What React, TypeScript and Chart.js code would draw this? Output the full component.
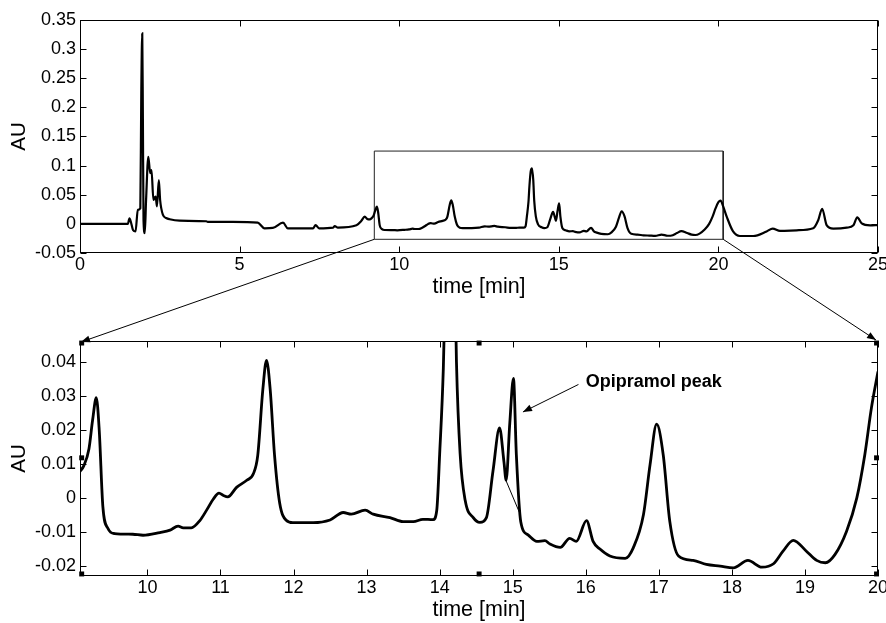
import React, { useEffect, useRef } from 'react';
import { Chart, registerables } from 'chart.js';

Chart.register(...registerables);

// ---------- data ----------
const earlyTime = [0, 1.5, 1.55, 1.6, 1.66, 1.74, 1.81, 1.89, 1.92, 1.95, 1.97, 1.99, 2.03, 2.07, 2.14, 2.2, 2.24, 2.3, 2.37, 2.41, 2.47, 2.51, 2.6, 2.7, 2.81, 3.12, 3.96, 4.0, 4.79, 5.57, 5.78, 6.04, 6.36, 6.51, 6.88, 7.3, 7.38, 7.49, 7.93, 7.98, 8.08, 8.66, 8.81, 8.92, 9.0];
const earlyAU = [0, 0, 0.0096, 0.002, -0.0105, -0.013, 0.024, 0.027, 0.224, 0.327, 0.18, 0.0067, -0.016, 0.041, 0.115, 0.087, 0.0925, 0.041, 0.047, 0.03, 0.075, 0.041, 0.0153, 0.01, 0.0079, 0.0055, 0.0045, 0.0035, 0.0035, 0.0021, -0.0076, -0.007, 0.0021, -0.0076, -0.0076, -0.0076, -0.002, -0.0078, -0.0065, -0.004, -0.0065, -0.0025, 0.005, 0.0124, 0.0085];

const zoomTime = [9.077, 9.13, 9.2, 9.25, 9.3, 9.34, 9.39, 9.46, 9.55, 9.8, 9.94, 10.17, 10.31, 10.42, 10.49, 10.6, 10.72, 10.81, 10.9, 10.98, 11.04, 11.1, 11.22, 11.36, 11.45, 11.51, 11.58, 11.63, 11.68, 11.74, 11.81, 11.9, 11.99, 12.27, 12.5, 12.68, 12.79, 12.98, 13.09, 13.32, 13.5, 13.64, 13.77, 13.91, 13.96, 14.0, 14.05, 14.08, 14.12, 14.16, 14.2, 14.23, 14.28, 14.35, 14.46, 14.55, 14.64, 14.73, 14.82, 14.88, 14.91, 14.96, 15.01, 15.05, 15.11, 15.21, 15.33, 15.44, 15.51, 15.65, 15.78, 15.87, 16.01, 16.1, 16.19, 16.33, 16.54, 16.65, 16.79, 16.88, 16.97, 17.06, 17.15, 17.27, 17.47, 17.65, 17.84, 18.02, 18.22, 18.41, 18.57, 18.7, 18.84, 19.02, 19.16, 19.28, 19.41, 19.57, 19.71, 19.82, 19.91, 20.0];
const zoomAU = [0.0078, 0.0095, 0.0145, 0.023, 0.0295, 0.02, -0.0026, -0.009, -0.0105, -0.0107, -0.011, -0.0102, -0.0095, -0.0083, -0.0088, -0.0088, -0.0066, -0.0036, -0.0004, 0.0014, 0.0007, 0.0003, 0.0031, 0.0052, 0.0071, 0.0125, 0.032, 0.0405, 0.032, 0.0125, -0.0015, -0.0066, -0.0073, -0.0073, -0.0065, -0.0043, -0.0048, -0.0036, -0.0048, -0.0058, -0.007, -0.007, -0.0063, -0.0064, -0.0037, 0.0129, 0.038, 0.065, 0.09, 0.0955, 0.075, 0.04, 0.013, -0.0008, -0.0058, -0.0072, -0.0058, 0.0079, 0.0206, 0.0106, 0.0052, 0.022, 0.0352, 0.0126, -0.007, -0.0109, -0.0128, -0.0126, -0.0136, -0.0146, -0.0119, -0.0128, -0.0067, -0.0128, -0.015, -0.0171, -0.0178, -0.0147, -0.0049, 0.0098, 0.0217, 0.0127, -0.0069, -0.0171, -0.0184, -0.0196, -0.0201, -0.0206, -0.0184, -0.0204, -0.0194, -0.0157, -0.0125, -0.0157, -0.0184, -0.0191, -0.0167, -0.0098, 0.0, 0.0128, 0.0265, 0.0372];

const lateTime = [20.07, 20.15, 20.26, 20.46, 20.67, 21.09, 21.51, 21.7, 21.93, 22.45, 22.97, 23.13, 23.25, 23.39, 23.6, 24.02, 24.23, 24.35, 24.49, 24.75, 25.0];
const lateAU = [0.04, 0.03, 0.0124, -0.013, -0.0208, -0.0208, -0.013, -0.008, -0.012, -0.011, -0.0076, 0.0067, 0.026, -0.002, -0.008, -0.0065, -0.0025, 0.0113, 0.001, -0.0025, -0.002];

const topTimeRange = [0, 25];
const topAURange = [-0.05, 0.35];
const topTimeTicks = [0, 5, 10, 15, 20, 25];
const topAUTicks = [-0.05, 0, 0.05, 0.1, 0.15, 0.2, 0.25, 0.3, 0.35];

const bottomTimeRange = [9.077, 20];
const bottomAURange = [-0.023, 0.0462];
const bottomTimeTicks = [10, 11, 12, 13, 14, 15, 16, 17, 18, 19, 20];
const bottomAUTicks = [-0.02, -0.01, 0, 0.01, 0.02, 0.03, 0.04];

const zoomBoxTime = [9.22, 20.15];
const zoomBoxAU = [-0.0265, 0.125];

const markerTime = [9.1, 9.1, 9.1, 14.54, 14.54, 19.98, 19.98, 19.98];
const markerAU = [0.0456, 0.0118, -0.0224, 0.0456, -0.0224, 0.0456, 0.0118, -0.0224];

const baselineTime = [14.906, 15.088];
const baselineAU = [0.0052, -0.0041];

const peakLabel = 'Opipramol peak';
const peakLabelAt = [16.0, 0.034];
const peakArrowFrom = [15.9, 0.0334];
const peakArrowTo = [15.14, 0.0253];

// ---------- helpers ----------
const FONT = '"Liberation Sans", Arial, Helvetica, sans-serif';
Chart.defaults.font.family = FONT;
Chart.defaults.color = '#000';

const pts = (xs: number[], ys: number[]) => xs.map((x, i) => ({ x, y: ys[i] }));
const fmt = (v: number) => {
  const s = String(parseFloat(Number(v).toFixed(4)));
  return s === '-0' ? '0' : s;
};

function drawArrow(ctx: CanvasRenderingContext2D, x1: number, y1: number, x2: number, y2: number, head = 9, half = 3.5) {
  ctx.beginPath();
  ctx.moveTo(x1, y1);
  ctx.lineTo(x2, y2);
  ctx.stroke();
  const a = Math.atan2(y2 - y1, x2 - x1);
  const bx = x2 - head * Math.cos(a);
  const by = y2 - head * Math.sin(a);
  ctx.beginPath();
  ctx.moveTo(x2, y2);
  ctx.lineTo(bx + half * Math.sin(a), by - half * Math.cos(a));
  ctx.lineTo(bx - half * Math.sin(a), by + half * Math.cos(a));
  ctx.closePath();
  ctx.fill();
}

const framePlugin = {
  id: 'frameTicks',
  afterDatasetsDraw(chart: any) {
    const { ctx, chartArea: a, scales } = chart;
    const L = Math.round(a.left) + 0.5;
    const R = Math.round(a.right) - 0.5;
    const T = Math.round(a.top) + 0.5;
    const B = Math.round(a.bottom) - 0.5;
    const len = 6;
    ctx.save();
    ctx.strokeStyle = '#000';
    ctx.lineWidth = 1;
    ctx.strokeRect(L, T, R - L, B - T);
    ctx.beginPath();
    scales.x.ticks.forEach((t: any) => {
      const p = Math.round(scales.x.getPixelForValue(t.value)) + 0.5;
      ctx.moveTo(p, B); ctx.lineTo(p, B - len);
      ctx.moveTo(p, T); ctx.lineTo(p, T + len);
    });
    scales.y.ticks.forEach((t: any) => {
      const p = Math.round(scales.y.getPixelForValue(t.value)) + 0.5;
      ctx.moveTo(L, p); ctx.lineTo(L + len, p);
      ctx.moveTo(R, p); ctx.lineTo(R - len, p);
    });
    ctx.stroke();
    ctx.restore();
  },
};

const annotationPlugin = {
  id: 'peakAnnotation',
  afterDatasetsDraw(chart: any) {
    const { ctx, scales } = chart;
    const X = (v: number) => scales.x.getPixelForValue(v);
    const Y = (v: number) => scales.y.getPixelForValue(v);
    ctx.save();
    ctx.fillStyle = '#000';
    ctx.strokeStyle = '#000';
    ctx.lineWidth = 1;
    ctx.font = `bold 18px ${FONT}`;
    ctx.textBaseline = 'middle';
    ctx.textAlign = 'left';
    ctx.fillText(peakLabel, X(peakLabelAt[0]), Y(peakLabelAt[1]));
    drawArrow(ctx, X(peakArrowFrom[0]), Y(peakArrowFrom[1]), X(peakArrowTo[0]), Y(peakArrowTo[1]), 9, 3.5);
    ctx.restore();
  },
};

function xAxis(range: number[], ticks: number[], height: number) {
  return {
    type: 'linear',
    min: range[0],
    max: range[1],
    afterBuildTicks: (s: any) => { s.ticks = ticks.map((v) => ({ value: v })); },
    afterFit: (s: any) => { s.height = height; s.paddingLeft = 0; s.paddingRight = 0; },
    grid: { display: false, drawTicks: false },
    border: { display: false },
    ticks: { autoSkip: false, maxRotation: 0, minRotation: 0, padding: 1, color: '#000', font: { size: 18 }, callback: (v: any) => fmt(v) },
    title: { display: true, text: 'time [min]', color: '#000', font: { size: 21.5 }, padding: { top: 0, bottom: 0 } },
  };
}

function yAxis(range: number[], ticks: number[]) {
  return {
    type: 'linear',
    min: range[0],
    max: range[1],
    afterBuildTicks: (s: any) => { s.ticks = ticks.map((v) => ({ value: v })); },
    afterFit: (s: any) => { s.width = 80; s.paddingTop = 0; s.paddingBottom = 0; },
    grid: { display: false, drawTicks: false },
    border: { display: false },
    ticks: { autoSkip: false, padding: 4, color: '#000', font: { size: 18 }, callback: (v: any) => fmt(v) },
    title: { display: true, text: 'AU', color: '#000', font: { size: 20.5 }, padding: { top: 7, bottom: 0 } },
  };
}

const baseOptions = {
  responsive: false,
  animation: false,
  devicePixelRatio: 1,
  plugins: { legend: { display: false }, tooltip: { enabled: false } },
  events: [],
};

export default function App() {
  const topRef = useRef<HTMLCanvasElement>(null);
  const botRef = useRef<HTMLCanvasElement>(null);
  const overRef = useRef<HTMLCanvasElement>(null);

  useEffect(() => {
    const topCanvas = topRef.current!;
    const botCanvas = botRef.current!;
    const overCanvas = overRef.current!;

    const fullData = [
      ...pts(earlyTime, earlyAU),
      ...pts(zoomTime, zoomAU),
      ...pts(lateTime, lateAU),
    ];

    const boxData = [
      { x: zoomBoxTime[0], y: zoomBoxAU[0] },
      { x: zoomBoxTime[0], y: zoomBoxAU[1] },
      { x: zoomBoxTime[1], y: zoomBoxAU[1] },
      { x: zoomBoxTime[1], y: zoomBoxAU[0] },
      { x: zoomBoxTime[0], y: zoomBoxAU[0] },
    ];

    const topChart = new Chart(topCanvas, {
      type: 'scatter',
      data: {
        datasets: [
          { data: fullData, showLine: true, borderColor: '#000', borderWidth: 2.2, pointRadius: 0, cubicInterpolationMode: 'monotone' } as any,
          { data: boxData, showLine: true, borderColor: '#222', borderWidth: 1, pointRadius: 0, tension: 0, clip: false } as any,
        ],
      },
      options: {
        ...baseOptions,
        layout: { padding: { top: 20, right: 8, left: 0, bottom: 0 } },
        scales: { x: xAxis(topTimeRange, topTimeTicks, 47), y: yAxis(topAURange, topAUTicks) } as any,
      } as any,
      plugins: [framePlugin],
    });

    const botChart = new Chart(botCanvas, {
      type: 'scatter',
      data: {
        datasets: [
          { data: pts(zoomTime, zoomAU), showLine: true, borderColor: '#000', borderWidth: 2.8, pointRadius: 0, cubicInterpolationMode: 'monotone' } as any,
          { data: pts(baselineTime, baselineAU), showLine: true, borderColor: '#000', borderWidth: 1, pointRadius: 0, tension: 0 } as any,
          { data: pts(markerTime, markerAU), showLine: false, pointStyle: 'rect', pointRadius: 3.5, backgroundColor: '#000', borderColor: '#000', borderWidth: 0, clip: false } as any,
        ],
      },
      options: {
        ...baseOptions,
        layout: { padding: { top: 41, right: 8, left: 0, bottom: 0 } },
        scales: { x: xAxis(bottomTimeRange, bottomTimeTicks, 47), y: yAxis(bottomAURange, bottomAUTicks) } as any,
      } as any,
      plugins: [framePlugin, annotationPlugin],
    });

    // connector lines between the zoom box and the lower panel
    const ctx = overCanvas.getContext('2d')!;
    ctx.clearRect(0, 0, overCanvas.width, overCanvas.height);
    const tx = topCanvas.offsetLeft, ty = topCanvas.offsetTop;
    const bx = botCanvas.offsetLeft, by = botCanvas.offsetTop;
    const ts = topChart.scales as any;
    const bs = botChart.scales as any;
    const a1 = { x: tx + ts.x.getPixelForValue(zoomBoxTime[0]), y: ty + ts.y.getPixelForValue(zoomBoxAU[0]) };
    const a2 = { x: tx + ts.x.getPixelForValue(zoomBoxTime[1]), y: ty + ts.y.getPixelForValue(zoomBoxAU[0]) };
    const b1 = { x: bx + bs.x.getPixelForValue(bottomTimeRange[0]), y: by + bs.y.getPixelForValue(bottomAURange[1]) };
    const b2 = { x: bx + bs.x.getPixelForValue(bottomTimeRange[1]), y: by + bs.y.getPixelForValue(bottomAURange[1]) };
    ctx.save();
    ctx.strokeStyle = '#000';
    ctx.fillStyle = '#000';
    ctx.lineWidth = 1;
    drawArrow(ctx, a1.x, a1.y, b1.x + 1, b1.y + 1, 9, 3.5);
    drawArrow(ctx, a2.x, a2.y, b2.x - 2, b2.y - 1, 9, 3.5);
    ctx.restore();

    return () => {
      topChart.destroy();
      botChart.destroy();
    };
  }, []);

  return (
    <div style={{ position: 'absolute', left: 0, top: 0, width: 886, height: 623, background: '#fff' }}>
      <canvas ref={topRef} width={886} height={300} style={{ position: 'absolute', left: 0, top: 0 }} />
      <canvas ref={botRef} width={886} height={323} style={{ position: 'absolute', left: 0, top: 300 }} />
      <canvas ref={overRef} width={886} height={623} style={{ position: 'absolute', left: 0, top: 0, pointerEvents: 'none' }} />
    </div>
  );
}
